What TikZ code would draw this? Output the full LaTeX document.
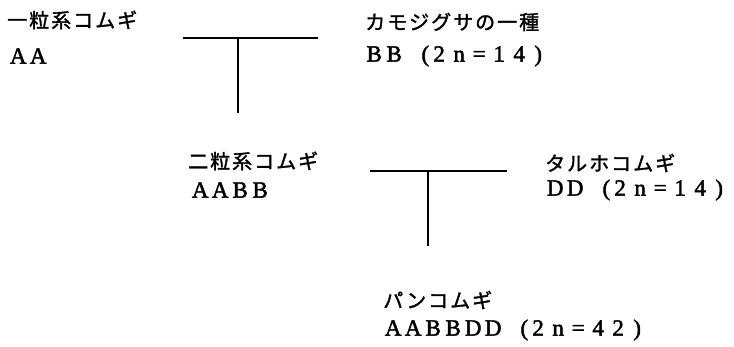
\documentclass[tikz,border=0pt]{standalone}
\usepackage{fontspec}
\newfontfamily\jpk[LetterSpace=10,FakeBold=1.6]{Noto Sans CJK JP}
\newfontfamily\latf[FakeBold=2]{Liberation Serif}
\newcommand\fwc[1]{\makebox[20pt][c]{#1}}
\newcommand\fwo[1]{\makebox[25pt][r]{#1}}
\newcommand\fwe[1]{\makebox[18pt][c]{#1}}
\begin{document}
\begin{tikzpicture}[x=1pt,y=-1pt,
  kana/.style={anchor=west,inner sep=0pt,font=\jpk\fontsize{20}{24}\selectfont},
  latin/.style={anchor=west,inner sep=0pt,font=\latf\fontsize{23}{26}\selectfont},
  link/.style={line width=2pt,line cap=butt}]
\useasboundingbox (0,0) rectangle (734,347);
\fill[white] (0,0) rectangle (734,347);
% labels
\node[kana]  (k1)  at (7,20)    {一粒系コムギ};
\node[latin] (a1)  at (8,56)    {\fwc{A}\fwc{A}};
\node[kana]  (k2)  at (365,22)  {カモジグサの一種};
\node[latin] (b1)  at (364,56)  {\fwc{B}\fwc{B}\fwo{(}\fwc{2}\fwc{n}\fwc{=}\fwc{1}\fwc{4}\fwe{)}};
\node[kana]  (k3)  at (188,161) {二粒系コムギ};
\node[latin] (ab)  at (190,190) {\fwc{A}\fwc{A}\fwc{B}\fwc{B}};
\node[kana]  (k4)  at (545,163) {タルホコムギ};
\node[latin] (dd)  at (545,190) {\fwc{D}\fwc{D}\fwo{(}\fwc{2}\fwc{n}\fwc{=}\fwc{1}\fwc{4}\fwe{)}};
\node[kana]  (k5)  at (383,300) {パンコムギ};
\node[latin] (abd) at (383,330) {\fwc{A}\fwc{A}\fwc{B}\fwc{B}\fwc{D}\fwc{D}\fwo{(}\fwc{2}\fwc{n}\fwc{=}\fwc{4}\fwc{2}\fwe{)}};
% connector points
\coordinate (t1l) at (183,38);
\coordinate (t1r) at (318,38);
\coordinate (t1m) at (238,38);
\coordinate (t1b) at (238,113);
\coordinate (t2l) at (370,171);
\coordinate (t2r) at (507,171);
\coordinate (t2m) at (428,171);
\coordinate (t2b) at (428,246);
\draw[link] (t1l) -- (t1r);
\draw[link] (t1m) -- (t1b);
\draw[link] (t2l) -- (t2r);
\draw[link] (t2m) -- (t2b);
\end{tikzpicture}
\end{document}
